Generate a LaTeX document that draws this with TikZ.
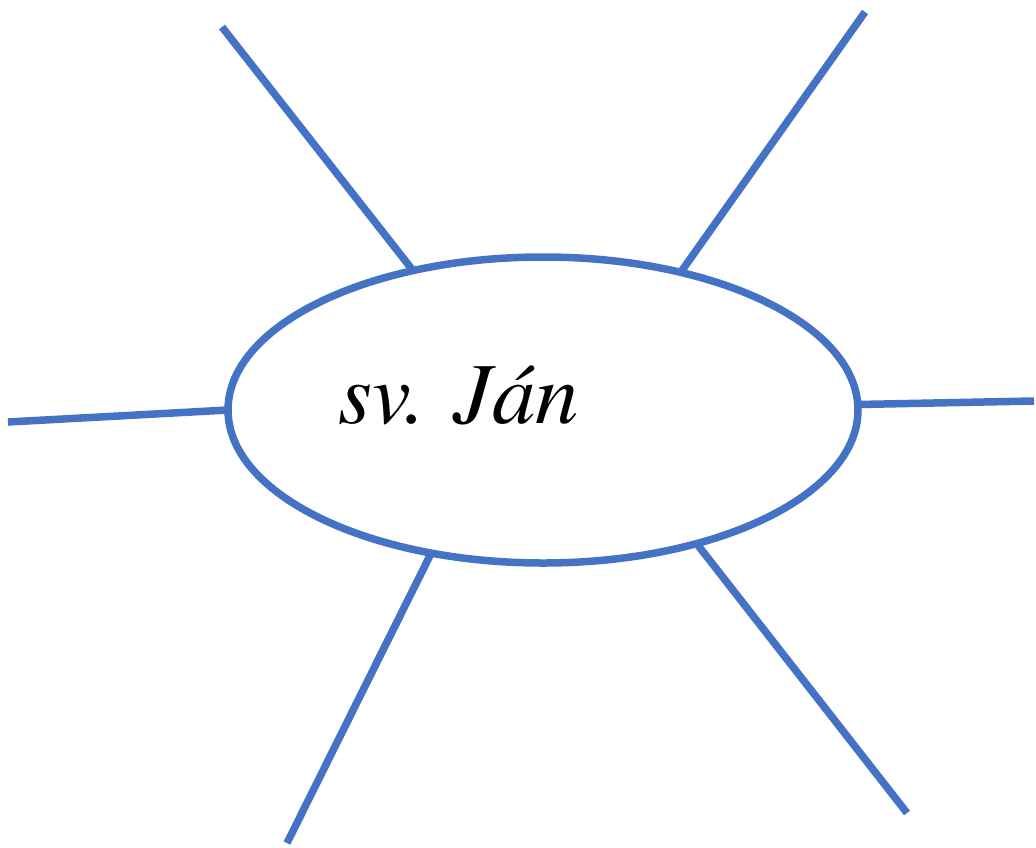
\documentclass[tikz,border=0pt]{standalone}
\usepackage[T1]{fontenc}
\usepackage{tikz}
\usetikzlibrary{shapes.geometric}
\definecolor{rayblue}{HTML}{4472C4}

\begin{document}
\begin{tikzpicture}[x=1pt, y=-1pt, line width=7.5pt]
  \useasboundingbox (0,0) rectangle (1036,847);
  \tikzset{ray/.style={draw=rayblue}}
  \node[ellipse, draw=rayblue, minimum width=630pt, minimum height=306pt, inner sep=0pt, outer sep=0pt] (jan) at (543,410) {};
  \node[font=\fontfamily{ptm}\fontsize{87}{100}\selectfont\itshape, anchor=base] (name) at (459,423) {sv. J\'an};
  \coordinate (tl) at (222,27); \coordinate (tr) at (865,12);
  \coordinate (ml) at (8,422);  \coordinate (mr) at (1034,401);
  \coordinate (bl) at (287,843); \coordinate (br) at (907,813);
  \draw[ray] (jan.133) -- (tl); \draw[ray] (jan.45.4) -- (tr);
  \draw[ray] (jan.180.7) -- (ml); \draw[ray] (jan.1.3) -- (mr);
  \draw[ray] (jan.232.3) -- (bl); \draw[ray] (jan.319.6) -- (br);
\end{tikzpicture}
\end{document}
